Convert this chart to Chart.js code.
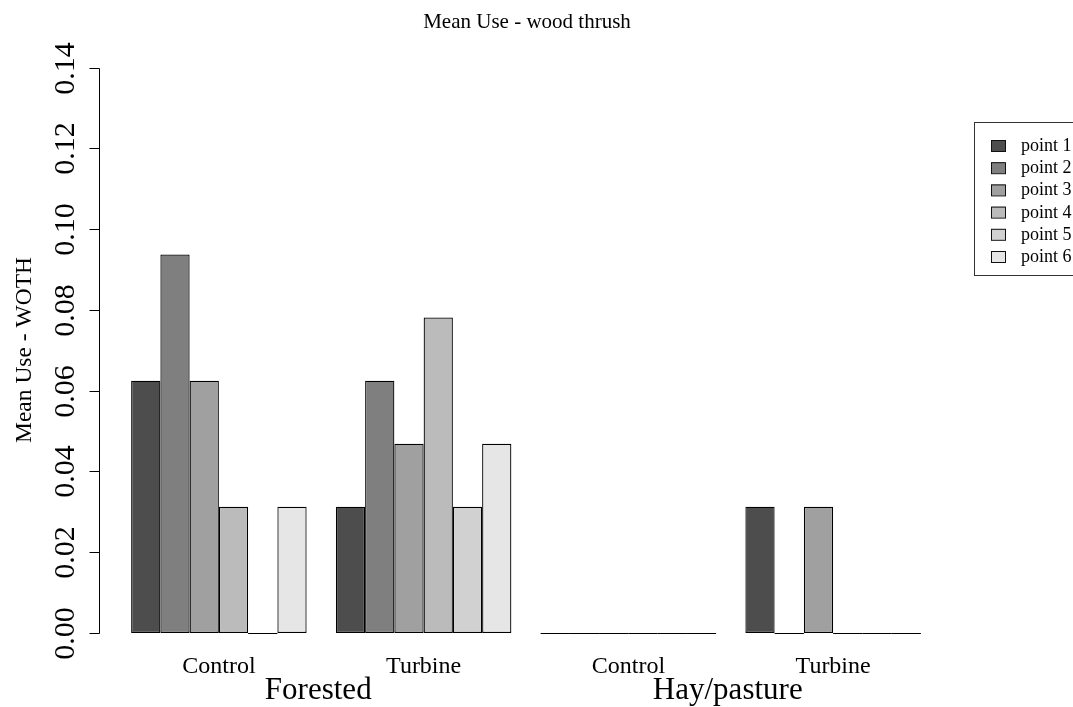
<!DOCTYPE html>
<html>
<head>
<meta charset="utf-8">
<title>Mean Use - wood thrush</title>
<script src="https://cdn.jsdelivr.net/npm/chart.js@4.4.1/dist/chart.umd.min.js"></script>
<style>
  html, body { margin: 0; padding: 0; background: #ffffff; }
  #wrap { width: 1073px; height: 707px; }
</style>
</head>
<body>
<div id="wrap"><canvas id="chart" width="1073" height="707"></canvas></div>
<script>
// Treatment within each habitat (one bar group each)
const categories = ['Control', 'Turbine', 'Control', 'Turbine'];
// Habitat labels, each spanning two consecutive groups
const habitats = ['Forested', 'Hay/pasture'];
const seriesNames = ['point 1', 'point 2', 'point 3', 'point 4', 'point 5', 'point 6'];

// Mean use per survey point, in category order
const point1 = [0.0625, 0.03125, 0, 0.03125];
const point2 = [0.09375, 0.0625, 0, 0];
const point3 = [0.0625, 0.046875, 0, 0.03125];
const point4 = [0.03125, 0.078125, 0, 0];
const point5 = [0, 0.03125, 0, 0];
const point6 = [0.03125, 0.046875, 0, 0];

const yTicks = [0, 0.02, 0.04, 0.06, 0.08, 0.10, 0.12, 0.14];
const yTickLabels = ['0.00', '0.02', '0.04', '0.06', '0.08', '0.10', '0.12', '0.14'];

const chartTitle = 'Mean Use - wood thrush';
const yTitle = 'Mean Use - WOTH';

const greys = ['#4d4d4d', '#7f7f7f', '#a0a0a0', '#bbbbbb', '#d1d1d1', '#e6e6e6'];
const seriesValues = [point1, point2, point3, point4, point5, point6];

const SERIF = '"Liberation Serif", "DejaVu Serif", serif';

// Base-graphics style axes, labels and legend drawn on top of the bars
const basePlotDecor = {
  id: 'basePlotDecor',
  afterDatasetsDraw(chart) {
    const ctx = chart.ctx;
    const x = chart.scales.x;
    const y = chart.scales.y;
    ctx.save();

    // zero-height bars show as a line on the baseline
    ctx.strokeStyle = '#000';
    ctx.lineWidth = 1;
    const y0 = Math.round(y.getPixelForValue(0)) + 0.5;
    chart.data.datasets.forEach((ds, di) => {
      const meta = chart.getDatasetMeta(di);
      meta.data.forEach((bar, i) => {
        if (ds.data[i] === 0) {
          const half = bar.width / 2;
          ctx.beginPath();
          ctx.moveTo(bar.x - half, y0);
          ctx.lineTo(bar.x + half, y0);
          ctx.stroke();
        }
      });
    });

    // title
    ctx.fillStyle = '#000';
    ctx.font = '21px ' + SERIF;
    ctx.textAlign = 'center';
    ctx.textBaseline = 'alphabetic';
    ctx.fillText(chartTitle, 527, 28);

    // y axis: line, ticks and vertical tick labels
    const axX = 99.5;
    const yTop = y.getPixelForValue(yTicks[yTicks.length - 1]);
    const yBot = y.getPixelForValue(yTicks[0]);
    ctx.strokeStyle = '#000';
    ctx.beginPath();
    ctx.moveTo(axX, Math.round(yTop) + 0.5);
    ctx.lineTo(axX, Math.round(yBot) + 0.5);
    ctx.stroke();
    ctx.font = '30px ' + SERIF;
    yTicks.forEach((v, i) => {
      const py = Math.round(y.getPixelForValue(v)) + 0.5;
      ctx.beginPath();
      ctx.moveTo(axX - 10, py);
      ctx.lineTo(axX, py);
      ctx.stroke();
      ctx.save();
      ctx.translate(74, py);
      ctx.rotate(-Math.PI / 2);
      ctx.textAlign = 'center';
      ctx.fillText(yTickLabels[i], 0, 0);
      ctx.restore();
    });

    // y axis title
    ctx.save();
    ctx.font = '23.5px ' + SERIF;
    ctx.translate(31, 350);
    ctx.rotate(-Math.PI / 2);
    ctx.textAlign = 'center';
    ctx.fillText(yTitle, 0, 0);
    ctx.restore();

    // treatment labels under each group
    ctx.font = '24px ' + SERIF;
    ctx.textAlign = 'center';
    categories.forEach((c, i) => {
      ctx.fillText(c, x.getPixelForValue(i), 673);
    });

    // habitat labels centred under each pair of groups
    ctx.font = '31px ' + SERIF;
    habitats.forEach((h, k) => {
      const cx = (x.getPixelForValue(2 * k) + x.getPixelForValue(2 * k + 1)) / 2 - 3;
      ctx.fillText(h, cx, 699);
    });

    // legend box
    ctx.strokeStyle = '#333';
    ctx.strokeRect(974.5, 122.5, 130, 153);
    ctx.font = '18px ' + SERIF;
    ctx.textAlign = 'left';
    chart.data.datasets.forEach((ds, i) => {
      const cy = 145 + i * 22.2;
      ctx.fillStyle = ds.backgroundColor;
      ctx.fillRect(991, cy - 5, 14, 11);
      ctx.strokeStyle = '#111';
      ctx.strokeRect(991.5, cy - 4.5, 14, 11);
      ctx.fillStyle = '#000';
      ctx.fillText(ds.label, 1021, cy + 6);
    });

    ctx.restore();
  }
};

new Chart(document.getElementById('chart'), {
  type: 'bar',
  data: {
    labels: categories,
    datasets: seriesNames.map((name, i) => ({
      label: name,
      data: seriesValues[i],
      backgroundColor: greys[i],
      borderColor: '#000',
      borderWidth: 1.25,
      borderSkipped: false,
      categoryPercentage: 6 / 7,
      barPercentage: 1
    }))
  },
  options: {
    responsive: false,
    animation: false,
    events: [],
    layout: { padding: { left: 116.5, right: 137.5, top: 67.7, bottom: 74 } },
    scales: {
      x: { display: false, offset: true },
      y: { display: false, min: 0, max: 0.14 }
    },
    plugins: {
      legend: { display: false },
      title: { display: false },
      tooltip: { enabled: false }
    }
  },
  plugins: [basePlotDecor]
});
</script>
</body>
</html>
